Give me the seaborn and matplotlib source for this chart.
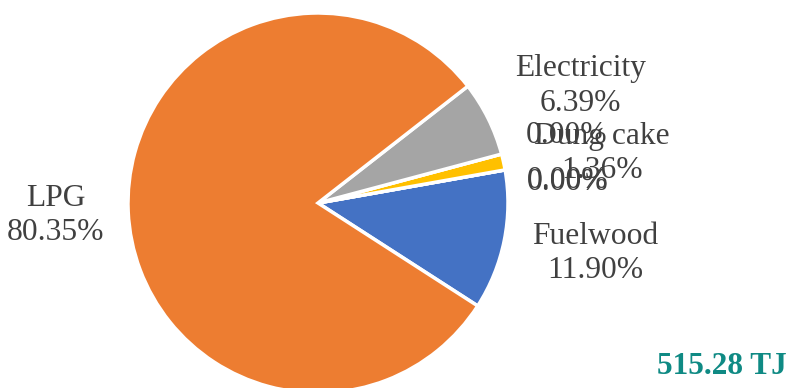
import numpy as np
import matplotlib
matplotlib.use("Agg")
import matplotlib.pyplot as plt
import seaborn as sns

sns.set_theme(style="white")
plt.rcParams['font.family'] = ['Liberation Serif', 'DejaVu Serif']

# Data (shares of household energy use, %)
categories = ["Fuelwood", "Kerosene", "Charcoal", "Dung cake", "Biogas", "Electricity", "LPG"]
shares = [11.90, 0.00, 0.00, 1.36, 0.00, 6.39, 80.35]
colors = ["#4472C4", "#5B9BD5", "#70AD47", "#FFC000", "#264478", "#A5A5A5", "#ED7D31"]
total_label = "515.28 TJ"

# label placement styling (radius in pie radii, angle tweak in degrees)
label_r = [1.48, 1.32, 1.32, 1.52, 1.36, 1.52, 1.38]
label_dth = [1.7, -4.7, -4.3, -2.0, 1.0, -1.9, -0.5]

W, H = 790, 388
fig = plt.figure(figsize=(W / 100, H / 100), dpi=100)
ax = fig.add_axes([0, 0, 1, 1])

cx, cy, R = 318, 185, 190
wedges, _ = ax.pie(shares, colors=colors, startangle=-32.8, counterclock=True,
                   center=(cx, cy), radius=R,
                   wedgeprops=dict(edgecolor="white", linewidth=2.5))

for w, name, v, r, dth in zip(wedges, categories, shares, label_r, label_dth):
    mid = np.deg2rad((w.theta1 + w.theta2) / 2 + dth)
    txt = f"{name}\n{v:.2f}%" if v > 0 else f"{v:.2f}%"
    ax.text(cx + r * R * np.cos(mid), cy + r * R * np.sin(mid) - 3, txt,
            ha="center", va="center", fontsize=22.7, color="#404040",
            linespacing=1.25)

ax.text(787, 22, total_label, ha="right", va="center", fontsize=22.5,
        fontweight="bold", color="#0F8A84")

ax.set_xlim(0, W)
ax.set_ylim(0, H)
ax.set_aspect("equal")
ax.axis("off")

fig.savefig("out.png", dpi=100, facecolor="white")
